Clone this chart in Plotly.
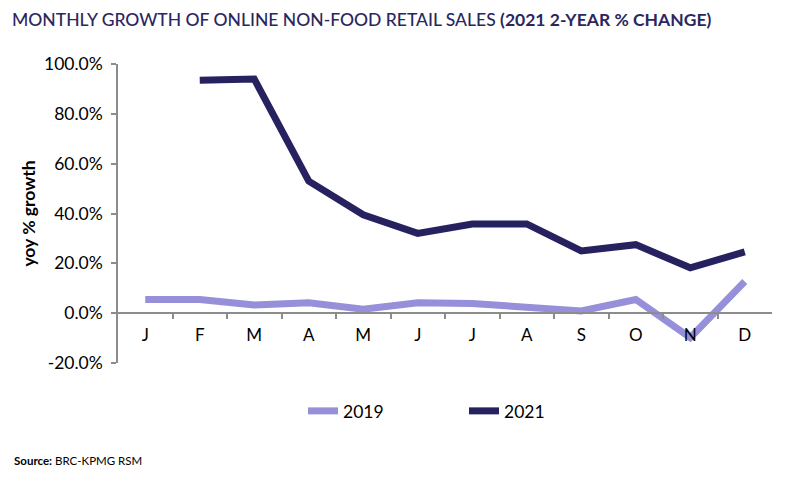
import plotly.graph_objects as go

months = ["J", "F", "M", "A", "M", "J", "J", "A", "S", "O", "N", "D"]
x_idx = list(range(12))
s2019 = [5.5, 5.5, 3.3, 4.2, 1.6, 4.2, 3.9, 2.5, 0.9, 5.5, -9.8, 12.7]
s2021 = [None, 93.5, 94.0, 53.0, 39.5, 32.0, 35.8, 35.8, 25.0, 27.5, 18.2, 24.6]
y_ticks = [-20, 0, 20, 40, 60, 80, 100]
y_labels = [f"{v:.1f}%" for v in y_ticks]

c2019 = "#9590d9"
c2021 = "#26215f"

# page has an 8px body margin; figure is sized to fit the 806x485 window
W, H = 798, 477
L, R, T, B = 110, 34, 56, 122
PW, PH = W - L - R, H - T - B

fig = go.Figure()
fig.add_trace(go.Scatter(x=x_idx, y=s2019, name="2019", mode="lines",
                         line=dict(color=c2019, width=7)))
fig.add_trace(go.Scatter(x=x_idx, y=s2021, name="2021", mode="lines",
                         line=dict(color=c2021, width=7)))
fig.add_trace(go.Scatter(x=[None], y=[None], xaxis="x2", showlegend=False, hoverinfo="skip"))

ymin, ymax = -20, 100
zero_pos = (0 - ymin) / (ymax - ymin)
fig.update_layout(
    width=W, height=H,
    margin=dict(l=L, r=R, t=T, b=B, autoexpand=False),
    plot_bgcolor="white", paper_bgcolor="white",
    font=dict(family="Lato, sans-serif", color="#000000"),
    title=dict(text="MONTHLY GROWTH OF ONLINE NON-FOOD RETAIL SALES <b>(2021 2-YEAR % CHANGE)</b>",
               x=4 / W, xanchor="left", y=1 - 12 / H, yanchor="middle",
               font=dict(size=17.5, color="#2b275e", family="Lato, sans-serif", weight=500)),
    xaxis=dict(type="linear", range=[-0.5, 11.5], tickvals=x_idx, ticktext=months,
               anchor="free", position=zero_pos, automargin=False,
               showline=True, linecolor="#8c8c8c", linewidth=1.5,
               ticks="", showgrid=False, zeroline=False, ticklabelstandoff=7,
               tickfont=dict(size=17, color="#000000")),
    xaxis2=dict(type="linear", range=[-0.5, 11.5], overlaying="x",
                tickvals=[i + 0.5 for i in x_idx[:-1]], showticklabels=False,
                anchor="free", position=zero_pos, automargin=False,
                showline=False, ticks="outside", ticklen=5, tickcolor="#8c8c8c",
                tickwidth=1.5, showgrid=False, zeroline=False),
    yaxis=dict(range=[ymin, ymax], tickvals=y_ticks, ticktext=y_labels, automargin=False,
               showline=True, linecolor="#8c8c8c", linewidth=1.5,
               ticks="outside", ticklen=5, tickcolor="#8c8c8c", tickwidth=1.5,
               showgrid=False, zeroline=False, ticklabelstandoff=5,
               tickfont=dict(size=17.5, color="#000000"),
               title=dict(text="<b>yoy % growth</b>", font=dict(size=17.5), standoff=4)),
    legend=dict(orientation="h", x=(297 - 8 - L - 8 + 14) / PW, xanchor="left",
                y=-(403 - (T + PH)) / PH, yanchor="middle",
                font=dict(size=17.5), entrywidth=116, entrywidthmode="pixels",
                traceorder="normal"),
    showlegend=True,
)

fig.add_annotation(text="<b>Source:</b> BRC-KPMG RSM", xref="paper", yref="paper",
                   x=(4 - L) / PW, xanchor="left", y=-(452 - (T + PH)) / PH, yanchor="middle",
                   showarrow=False, font=dict(size=11.5, color="#000000"))

fig.write_html("out.html")
